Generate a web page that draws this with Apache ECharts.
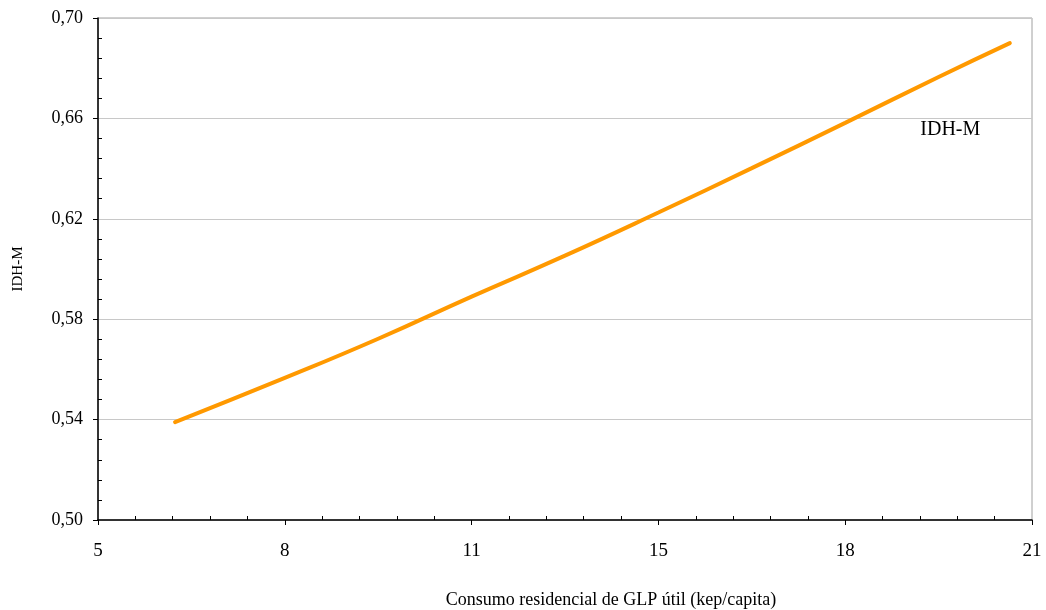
<!DOCTYPE html>
<html><head><meta charset="utf-8">
<script src="https://cdn.jsdelivr.net/npm/echarts@6/dist/echarts.min.js"></script>
<style>html,body{margin:0;padding:0;background:#fff}#c{width:1046px;height:610px}</style>
</head><body><div id="c"></div>
<script>
const xValues = [6.32, 8.2, 9.8, 11.4, 13.0, 14.6, 16.2, 17.8, 19.4, 20.62];
const idhm    = [0.539, 0.5566, 0.5722, 0.589, 0.6053, 0.6225, 0.6402, 0.6582, 0.6765, 0.690];
const seriesName = 'IDH-M';
const labelPos = [19.6, 0.6555];
const xTitle = 'Consumo residencial de GLP útil (kep/capita)';
const yTitle = 'IDH-M';

const font = '"Liberation Serif", "Times New Roman", serif';
const chart = echarts.init(document.getElementById('c'));
chart.setOption({
  animation: false,
  backgroundColor: '#fff',
  grid: { left: 98, right: 14, top: 18, bottom: 90, show: true, borderColor: '#a0a0a0', borderWidth: 1,
    containLabel: false, outerBoundsMode: 'none' },
  xAxis: {
    type: 'value', min: 5, max: 21, interval: 3.2,
    name: xTitle, nameLocation: 'middle', nameGap: 71,
    nameTextStyle: { fontFamily: font, fontSize: 18, color: '#000', padding: [0, 0, 0, 92] },
    axisLine: { show: true, lineStyle: { color: '#000', width: 1.5 } },
    axisTick: { show: true, length: 5, lineStyle: { color: '#000' } },
    minorTick: { show: true, splitNumber: 5, length: -4, lineStyle: { color: '#000' } },
    splitLine: { show: false },
    axisLabel: { fontFamily: font, fontSize: 19, color: '#000', margin: 22,
      formatter: v => String(Math.round(v)) }
  },
  yAxis: {
    type: 'value', min: 0.50, max: 0.70, interval: 0.04,
    name: yTitle, nameLocation: 'middle', nameGap: 72, nameRotate: 90,
    nameTextStyle: { fontFamily: font, fontSize: 15, color: '#000' },
    axisLine: { show: true, lineStyle: { color: '#000', width: 1.5 } },
    axisTick: { show: true, length: 5, lineStyle: { color: '#000' } },
    minorTick: { show: true, splitNumber: 5, length: -4, lineStyle: { color: '#000' } },
    splitLine: { show: true, lineStyle: { color: '#c8c8c8', width: 1 } },
    axisLabel: { fontFamily: font, fontSize: 18, color: '#000', margin: 15,
      formatter: v => v.toFixed(2).replace('.', ',') }
  },
  series: [{
    name: seriesName, type: 'line', smooth: true, showSymbol: false,
    data: xValues.map((x, i) => [x, idhm[i]]),
    lineStyle: { color: '#FF9900', width: 4, cap: 'round' },
    markPoint: {
      symbol: 'circle', symbolSize: 1,
      itemStyle: { color: 'rgba(0,0,0,0)' },
      data: [{ coord: labelPos, value: seriesName }],
      label: { show: true, position: 'inside', formatter: seriesName,
        fontFamily: font, fontSize: 20, color: '#000' }
    }
  }]
});
</script></body></html>
